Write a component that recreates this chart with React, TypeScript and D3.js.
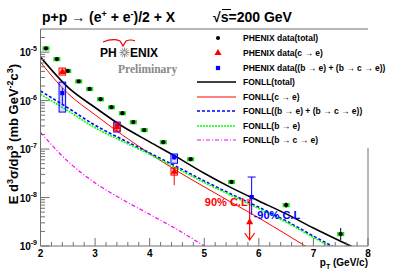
import * as d3 from 'd3'

// ── Data ─────────────────────────────────────────────────────────────────────
const totalPt = [2.1, 2.3, 2.5, 2.7, 2.9, 3.1, 3.3, 3.5, 3.7, 3.9, 4.25, 4.75, 5.5, 6.5, 7.5]
const totalVal = [1.2e-5, 7.2e-6, 4.1e-6, 2.5e-6, 1.74e-6, 1.07e-6, 7.3e-7, 5.5e-7, 3.6e-7, 2.47e-7, 1.39e-7, 6.2e-8, 2.1e-8, 7e-9, 1.77e-9]
const totalStatLo = [1.15e-5, 6.9e-6, 3.95e-6, 2.4e-6, 1.68e-6, 1.03e-6, 7.0e-7, 5.2e-7, 3.4e-7, 2.3e-7, 1.3e-7, 5.8e-8, 1.95e-8, 6.2e-9, 1.33e-9]
const totalStatHi = [1.25e-5, 7.5e-6, 4.25e-6, 2.6e-6, 1.8e-6, 1.11e-6, 7.6e-7, 5.8e-7, 3.8e-7, 2.64e-7, 1.48e-7, 6.6e-8, 2.25e-8, 7.9e-9, 2.35e-9]
const totalSys = [0.1, 0.1, 0.1, 0.1, 0.1, 0.1, 0.1, 0.1, 0.1, 0.1, 0.1, 0.1, 0.1, 0.1, 0.1]

const charmPt = [2.4, 3.4, 4.45]
const charmVal = [3.9e-6, 2.85e-7, 3.4e-8]
const charmStatLo = [3.5e-6, 2.3e-7, 1.8e-8]
const charmStatHi = [4.3e-6, 3.3e-7, 4.3e-8]
const charmSysLo = [3.36e-6, 2.35e-7, 2.9e-8]
const charmSysHi = [4.7e-6, 3.43e-7, 4.05e-8]

const bottomPt = [2.4, 3.4, 4.45]
const bottomVal = [1.43e-6, 2.95e-7, 6.8e-8]
const bottomStatLo = [8.1e-7, 2.6e-7, 6.0e-8]
const bottomStatHi = [1.81e-6, 3.3e-7, 7.6e-8]
const bottomSysLo = [5.8e-7, 2.25e-7, 5.1e-8]
const bottomSysHi = [2.4e-6, 3.6e-7, 7.9e-8]

// 90% C.L. upper limits at the highest pT bin
const limitPt = 5.85
const charmLimit = { val: 3.1e-9, top: 8.9e-9, bottom: 1.33e-9 }
const bottomLimit = { val: 1.02e-8, hi: 2.65e-8, lo: 4.4e-9 }

// FONLL curves
const fonllPt = [2.0, 2.5, 3.0, 3.5, 4.0, 4.5, 5.0, 5.5, 6.0, 6.5, 7.0, 7.5, 8.0]
const fonllTotal = [7.9e-6, 1.9e-6, 7.2e-7, 2.95e-7, 1.41e-7, 6.8e-8, 3.16e-8, 1.58e-8, 8.5e-9, 4.6e-9, 2.35e-9, 1.25e-9, 6.8e-10]
const fonllCharm = [6.2e-6, 1.41e-6, 5.1e-7, 1.95e-7, 8.1e-8, 3.55e-8, 1.66e-8, 7.9e-9, 3.8e-9, 1.74e-9, 7.9e-10, 3.6e-10, 1.7e-10]
const fonllBottomSum = [1.58e-6, 7.1e-7, 3.1e-7, 1.58e-7, 8.3e-8, 4.3e-8, 2.2e-8, 1.17e-8, 6.3e-9, 3.3e-9, 1.6e-9, 8e-10, 4e-10]
const fonllBtoE = [1.35e-6, 6.2e-7, 2.75e-7, 1.45e-7, 7.8e-8, 4.0e-8, 2.05e-8, 1.1e-8, 5.9e-9, 3.1e-9, 1.5e-9, 7.4e-10, 3.6e-10]
const fonllBtoCtoE = [2.2e-7, 5.6e-8, 2.0e-8, 9.1e-9, 4.5e-9, 2.2e-9, 1.0e-9, 4.6e-10, 2.1e-10, 1e-10, 5e-11, 2.5e-11, 1.2e-11]

const xTicks = [2, 3, 4, 5, 6, 7, 8]
const yDecades = [-9, -8, -7, -6, -5]

const legendLabels = [
  'PHENIX data(total)',
  'PHENIX data(c \u2192 e)',
  'PHENIX data((b \u2192 e) + (b \u2192 c \u2192  e))',
  'FONLL(total)',
  'FONLL(c \u2192 e)',
  'FONLL((b \u2192 e) + (b \u2192 c \u2192  e))',
  'FONLL(b \u2192 e)',
  'FONLL(b \u2192 c \u2192 e)',
]

const W = 409
const H = 274
const P = { left: 40.5, right: 368, top: 29, bottom: 246 }
const FONT = 'Liberation Sans, Arial, Helvetica, sans-serif'

const RED = '#ff0000'
const BLUE = '#0000ff'
const GREEN = '#22dd22'
const MAGENTA = '#ff00ff'
const AXIS = '#707070'

export default function App() {
  const x = d3.scaleLinear([2, 8], [P.left, P.right])
  const y = d3.scaleLog([1e-9, 3e-5], [P.bottom, P.top])

  const line = (vals: number[]) =>
    d3.line<number>()
      .x((_, i) => x(fonllPt[i]))
      .y(d => y(d))
      .curve(d3.curveMonotoneX)(vals) ?? ''

  // minor ticks
  const xMinor = d3.range(2, 8.001, 0.2).filter(v => Math.abs(v - Math.round(v)) > 0.01)
  const yMinor: number[] = []
  for (let e = -9; e <= -5; e++) for (let m = 2; m <= 9; m++) {
    const v = m * Math.pow(10, e)
    if (v <= 3e-5) yMinor.push(v)
  }

  const tri = d3.symbol(d3.symbolTriangle, 22)() ?? ''
  const sq = d3.symbol(d3.symbolSquare, 18)() ?? ''
  const halfW = 0.065
  const boxHalf = 0.06

  const curves = [
    { vals: fonllTotal, color: '#000', width: 1.6, dash: undefined as string | undefined },
    { vals: fonllCharm, color: RED, width: 1, dash: undefined },
    { vals: fonllBottomSum, color: BLUE, width: 1.6, dash: '3,2' },
    { vals: fonllBtoE, color: '#00ff00', width: 1.6, dash: '2,1' },
    { vals: fonllBtoCtoE, color: MAGENTA, width: 1.2, dash: '4,2,1,2' },
  ]

  const legendY = [38, 53, 68, 82, 97, 111, 126, 140]

  return (
    <svg width={W} height={H} style={{ position: 'absolute', left: 0, top: 0, background: '#fff' }}
      fontFamily={FONT}>
      <defs>
        <clipPath id="plot">
          <rect x={P.left} y={P.top} width={P.right - P.left} height={P.bottom - P.top} />
        </clipPath>
      </defs>

      {/* title */}
      <text x={42} y={22} fontSize={14} fontWeight="bold">
        p+p {'\u2192'} (e<tspan dy={-5} fontSize={9}>+</tspan><tspan dy={5}> + e</tspan>
        <tspan dy={-5} fontSize={9}>-</tspan><tspan dy={5}>)/2 + X</tspan>
      </text>
      <text x={213} y={22} fontSize={14} fontWeight="bold">{'\u221A'}s=200 GeV</text>
      <line x1={222} x2={231} y1={9.5} y2={9.5} stroke="#000" strokeWidth={1} />

      {/* PHENIX logo */}
      <g>
        <path d="M103,42 Q113,38 120,41 L123,46 L126,41 Q131,39 135,41" fill="none" stroke="#e00" strokeWidth={1.2} />
        <text x={100} y={57} fontSize={12} fontWeight="bold">PH</text>
        <g stroke="#888" strokeWidth={1}>
          {d3.range(12).map(i => {
            const a = (i / 12) * Math.PI * 2
            return <line key={i} x1={124.5 + Math.cos(a) * 1.2} y1={52.5 + Math.sin(a) * 1.2}
              x2={124.5 + Math.cos(a) * 5} y2={52.5 + Math.sin(a) * 5} />
          })}
        </g>
        <text x={130} y={57} fontSize={12} fontWeight="bold">ENIX</text>
        <text x={118} y={73} fontSize={11.5} fontWeight="bold" fill="#888" fontFamily="Liberation Serif, serif">Preliminary</text>
      </g>

      {/* curves */}
      <g clipPath="url(#plot)">
        {curves.map((c, i) => (
          <path key={i} d={line(c.vals)} fill="none" stroke={c.color} strokeWidth={c.width} strokeDasharray={c.dash} />
        ))}
      </g>

      {/* total data: green sys boxes, stat bars, black dots */}
      {totalPt.map((pt, i) => (
        <g key={`t${i}`}>
          <rect x={x(pt - halfW)} width={x(pt + halfW) - x(pt - halfW)}
            y={y(totalVal[i] * (1 + totalSys[i]))}
            height={y(totalVal[i] * (1 - totalSys[i])) - y(totalVal[i] * (1 + totalSys[i]))}
            fill={GREEN} />
          <line x1={x(pt)} x2={x(pt)} y1={y(totalStatHi[i])} y2={y(totalStatLo[i])} stroke="#000" strokeWidth={1} />
          <circle cx={x(pt)} cy={y(totalVal[i])} r={2.1} fill="#000" />
        </g>
      ))}

      {/* b -> e data */}
      {bottomPt.map((pt, i) => (
        <g key={`b${i}`}>
          <rect x={x(pt - boxHalf)} width={x(pt + boxHalf) - x(pt - boxHalf)}
            y={y(bottomSysHi[i])} height={y(bottomSysLo[i]) - y(bottomSysHi[i])}
            fill={BLUE} fillOpacity={0.15} stroke={BLUE} strokeWidth={1} />
          <line x1={x(pt)} x2={x(pt)} y1={y(bottomStatHi[i])} y2={y(bottomStatLo[i])} stroke={BLUE} />
          <path d={sq} transform={`translate(${x(pt)},${y(bottomVal[i])})`} fill={BLUE} />
        </g>
      ))}

      {/* c -> e data */}
      {charmPt.map((pt, i) => (
        <g key={`c${i}`}>
          <rect x={x(pt - boxHalf)} width={x(pt + boxHalf) - x(pt - boxHalf)}
            y={y(charmSysHi[i])} height={y(charmSysLo[i]) - y(charmSysHi[i])}
            fill={RED} fillOpacity={0.15} stroke={RED} strokeWidth={1} />
          <line x1={x(pt)} x2={x(pt)} y1={y(charmStatHi[i])} y2={y(charmStatLo[i])} stroke={RED} />
          <path d={tri} transform={`translate(${x(pt)},${y(charmVal[i])})`} fill={RED} />
        </g>
      ))}

      {/* upper limits */}
      <g>
        <line x1={x(limitPt) + 1} x2={x(limitPt) + 1} y1={y(bottomLimit.hi)} y2={y(bottomLimit.lo)} stroke={BLUE} />
        <line x1={x(limitPt) - 3} x2={x(limitPt) + 5} y1={y(bottomLimit.hi)} y2={y(bottomLimit.hi)} stroke={BLUE} />
        <path d={sq} transform={`translate(${x(limitPt) + 1},${y(bottomLimit.val)})`} fill={BLUE} />
        <text x={x(limitPt) + 3} y={y(bottomLimit.lo) + 4} fontSize={11} fontWeight="bold" fill={BLUE}>-90% C.L</text>

        <line x1={x(limitPt) - 1} x2={x(limitPt) - 1} y1={y(charmLimit.top)} y2={y(charmLimit.bottom)} stroke={RED} strokeWidth={1.2} />
        <line x1={x(limitPt) - 4} x2={x(limitPt) + 1} y1={y(charmLimit.top)} y2={y(charmLimit.top)} stroke={RED} strokeWidth={1.2} />
        <path d={`M${x(limitPt) - 6},${y(charmLimit.bottom) - 7} L${x(limitPt) - 1},${y(charmLimit.bottom)} L${x(limitPt) + 4},${y(charmLimit.bottom) - 7}`}
          fill="none" stroke={RED} strokeWidth={1.2} />
        <path d={tri} transform={`translate(${x(limitPt) - 1},${y(charmLimit.val)})`} fill={RED} />
        <text x={x(limitPt) - 3} y={y(charmLimit.top) + 6} fontSize={11} fontWeight="bold" fill={RED} textAnchor="end">90% C.L</text>
      </g>

      {/* frame */}
      <g stroke={AXIS} strokeWidth={1} fill="none">
        <line x1={P.left} x2={P.right} y1={P.top} y2={P.top} />
        <line x1={P.left} x2={P.left} y1={P.top} y2={P.bottom} />
        <line x1={P.left} x2={P.right} y1={P.bottom} y2={P.bottom} />
        <line x1={P.right} x2={P.right} y1={148} y2={P.bottom} />
        {xTicks.map(t => <line key={`xt${t}`} x1={x(t)} x2={x(t)} y1={P.bottom} y2={P.bottom - 8} />)}
        {xMinor.map(t => <line key={`xm${t}`} x1={x(t)} x2={x(t)} y1={P.bottom} y2={P.bottom - 4} />)}
        {yDecades.map(e => <line key={`yt${e}`} x1={P.left} x2={P.left + 9} y1={y(Math.pow(10, e))} y2={y(Math.pow(10, e))} />)}
        {yMinor.map(v => <line key={`ym${v}`} x1={P.left} x2={P.left + 4.5} y1={y(v)} y2={y(v)} />)}
      </g>

      {/* tick labels */}
      {xTicks.map(t => (
        <text key={`xl${t}`} x={x(t)} y={257} fontSize={10} fontWeight="bold" textAnchor="middle">{t}</text>
      ))}
      {yDecades.map(e => (
        <text key={`yl${e}`} x={37} y={y(Math.pow(10, e)) + 4} fontSize={10} fontWeight="bold" textAnchor="end">
          10<tspan dy={-5} fontSize={7}>{e}</tspan>
        </text>
      ))}

      {/* axis titles */}
      <text x={368} y={266} fontSize={10} fontWeight="bold" textAnchor="end">
        p<tspan dy={3} fontSize={7}>T</tspan><tspan dy={-3}> (GeV/c)</tspan>
      </text>
      <text transform="translate(18,134) rotate(-90)" fontSize={13} fontWeight="bold" textAnchor="middle">
        <tspan>E d</tspan>
        <tspan dy={-5} fontSize={9}>3</tspan>
        <tspan dy={5}>{'\u03C3'}/dp</tspan>
        <tspan dy={-5} fontSize={9}>3</tspan>
        <tspan dy={5}> (mb GeV</tspan>
        <tspan dy={-5} fontSize={9}>-2</tspan>
        <tspan dy={5}>c</tspan>
        <tspan dy={-5} fontSize={9}>3</tspan>
        <tspan dy={5}>)</tspan>
      </text>

      {/* legend */}
      <g fontSize={8.5} fontWeight="bold">
        <circle cx={218} cy={legendY[0]} r={2} fill="#000" />
        <path d={tri} transform={`translate(218,${legendY[1]})`} fill={RED} />
        <path d={sq} transform={`translate(218,${legendY[2]})`} fill={BLUE} />
        {curves.map((c, i) => (
          <line key={`ll${i}`} x1={197} x2={236} y1={legendY[i + 3]} y2={legendY[i + 3]}
            stroke={c.color} strokeWidth={c.width} strokeDasharray={c.dash} />
        ))}
        {legendLabels.map((l, i) => (
          <text key={`lt${i}`} x={243} y={legendY[i] + 3}>{l}</text>
        ))}
      </g>
    </svg>
  )
}
